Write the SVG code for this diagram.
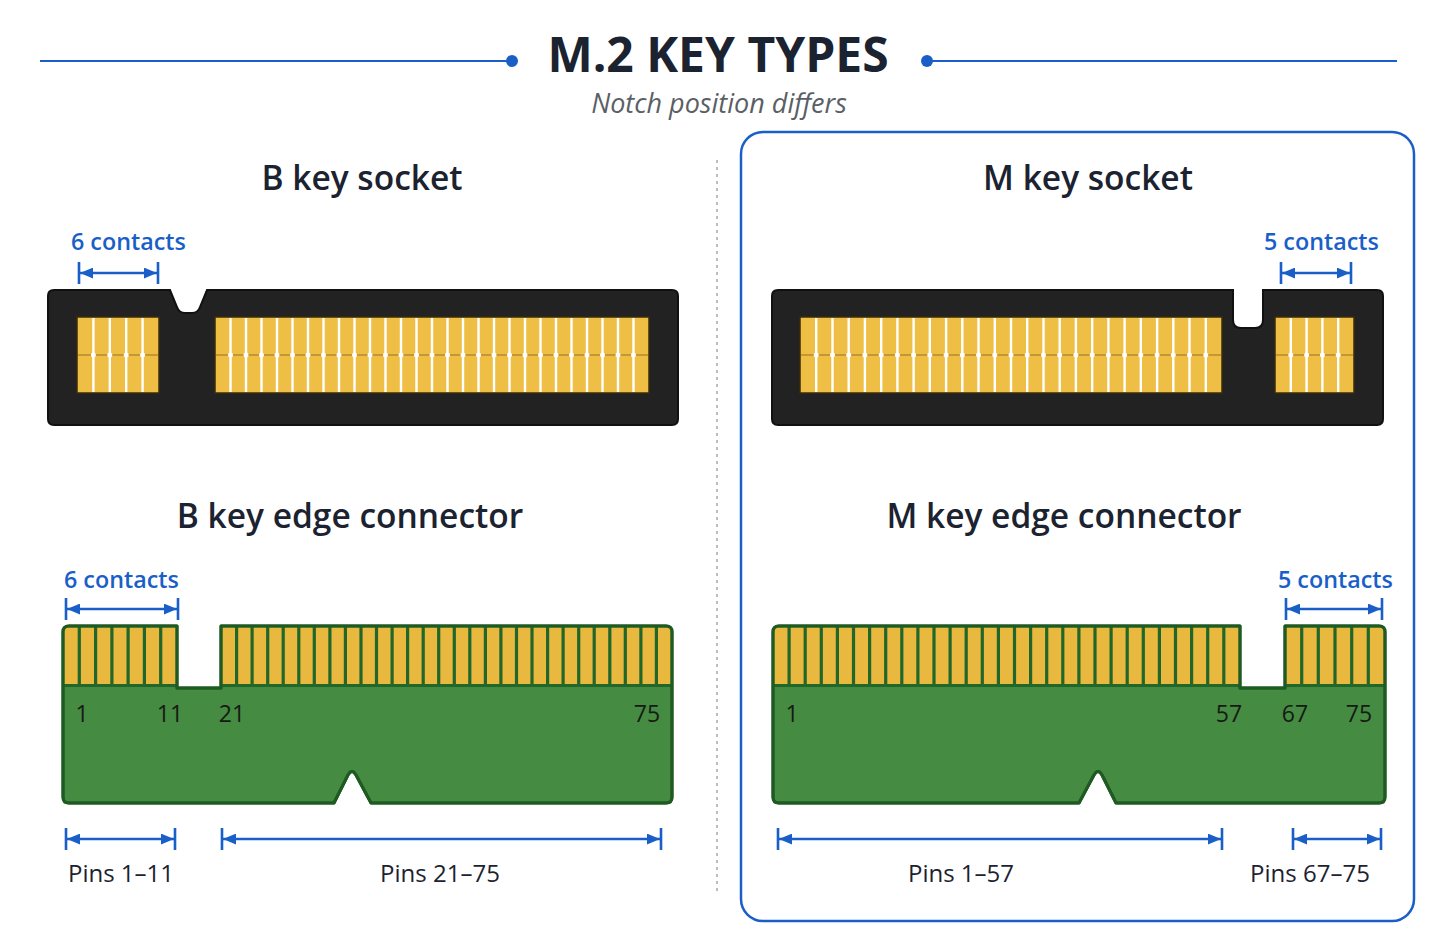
<svg xmlns="http://www.w3.org/2000/svg" width="1448" height="936" viewBox="0 0 1448 936">
<style>
text{font-family:"Open Sans","Noto Sans","DejaVu Sans",sans-serif}
.title{font-size:48px;font-weight:700;fill:#1b2230}
.sub{font-size:27px;font-style:italic;fill:#5a5f66}
.head{font-size:33.5px;font-weight:600;fill:#1b2230}
.blue{font-size:23.3px;font-weight:600;fill:#1a5fc8}
.pin{font-size:23px;fill:#151a15}
.dim{font-size:24px;fill:#1b2230}
.body{fill:#222222;stroke:#111111;stroke-width:2}
.spad{fill:#efbe45;stroke:#3a2c0c;stroke-width:1.5}
.sline{stroke:#ffffff;stroke-width:2.4;fill:none}
.smid{stroke:#b88a2a;stroke-width:1.5;fill:none}
.sdot{stroke:#ffffff;stroke-width:5;stroke-linecap:round;fill:none}
.pcb{fill:#458b41;stroke:#1f5a22;stroke-width:3;stroke-linejoin:round}
.gold{fill:#e9b83f}
.sep{stroke:#23662a;stroke-width:3.2;fill:none}
.dl{stroke:#1a5fc8;stroke-width:2.6;fill:none}
.tick{stroke:#1a5fc8;stroke-width:2.6;fill:none}
</style>
<defs>
<marker id="ah" viewBox="0 0 12 10" refX="12" refY="5" markerWidth="13" markerHeight="11" markerUnits="userSpaceOnUse" orient="auto-start-reverse">
<path d="M0 0 L12 5 L0 10 Z" fill="#1a5fc8"/>
</marker>
</defs>
<rect width="1448" height="936" fill="#ffffff"/>

<g id="title">
<line x1="40" y1="61" x2="512" y2="61" stroke="#1a5fc8" stroke-width="2"/>
<circle cx="512" cy="61" r="6" fill="#1a5fc8"/>
<line x1="927" y1="61" x2="1397" y2="61" stroke="#1a5fc8" stroke-width="2"/>
<circle cx="927" cy="61" r="6" fill="#1a5fc8"/>
<text class="title" x="718" y="72" text-anchor="middle">M.2 KEY TYPES</text>
<text class="sub" x="719" y="113" text-anchor="middle">Notch position differs</text>
</g>

<g id="divider">
<line x1="717" y1="160" x2="717" y2="892" stroke="#a8a8a8" stroke-width="1.5" stroke-dasharray="3 4"/>
</g>

<g id="m-panel">
<rect x="741" y="132" width="673" height="789" rx="22" fill="none" stroke="#1a5fc8" stroke-width="2.5"/>
</g>

<g id="b-socket">
<text class="head" x="362" y="190" text-anchor="middle">B key socket</text>
<text class="blue" x="71" y="250">6 contacts</text>
<path class="body" d="M54 290 H170 L177 307 Q179 313 185 313 H192 Q198 313 200 307 L207 290 H672 Q678 290 678 296 V419 Q678 425 672 425 H54 Q48 425 48 419 V296 Q48 290 54 290 Z"/>
<rect class="spad" x="77" y="317" width="82" height="76"/>
<rect class="spad" x="215" y="317" width="434" height="76"/>
<path class="smid" d="M78 355 H158 M216 355 H648"/>
<path class="sline" d="M93.4 318V392 M109.8 318V392 M126.2 318V392 M142.6 318V392 M230.5 318V392 M246 318V392 M261.5 318V392 M277 318V392 M292.5 318V392 M308 318V392 M323.5 318V392 M339 318V392 M354.5 318V392 M370 318V392 M385.5 318V392 M401 318V392 M416.5 318V392 M432 318V392 M447.5 318V392 M463 318V392 M478.5 318V392 M494 318V392 M509.5 318V392 M525 318V392 M540.5 318V392 M556 318V392 M571.5 318V392 M587 318V392 M602.5 318V392 M618 318V392 M633.5 318V392"/>
<path class="sdot" d="M93.4 355h0 M109.8 355h0 M126.2 355h0 M142.6 355h0 M230.5 355h0 M246 355h0 M261.5 355h0 M277 355h0 M292.5 355h0 M308 355h0 M323.5 355h0 M339 355h0 M354.5 355h0 M370 355h0 M385.5 355h0 M401 355h0 M416.5 355h0 M432 355h0 M447.5 355h0 M463 355h0 M478.5 355h0 M494 355h0 M509.5 355h0 M525 355h0 M540.5 355h0 M556 355h0 M571.5 355h0 M587 355h0 M602.5 355h0 M618 355h0 M633.5 355h0"/>
</g>

<g id="m-socket">
<text class="head" x="1088" y="190" text-anchor="middle">M key socket</text>
<text class="blue" x="1264" y="250">5 contacts</text>
<path class="body" d="M778 290 H1233 V320 Q1233 328 1241 328 H1255 Q1263 328 1263 320 V290 H1377 Q1383 290 1383 296 V419 Q1383 425 1377 425 H778 Q772 425 772 419 V296 Q772 290 778 290 Z"/>
<rect class="spad" x="800" y="317" width="422" height="76"/>
<rect class="spad" x="1275" y="317" width="79" height="76"/>
<path class="smid" d="M801 355 H1221 M1276 355 H1353"/>
<path class="sline" d="M816.2 318V392 M832.5 318V392 M848.7 318V392 M864.9 318V392 M881.2 318V392 M897.4 318V392 M913.6 318V392 M929.8 318V392 M946.1 318V392 M962.3 318V392 M978.5 318V392 M994.8 318V392 M1011 318V392 M1027.2 318V392 M1043.5 318V392 M1059.7 318V392 M1075.9 318V392 M1092.2 318V392 M1108.4 318V392 M1124.6 318V392 M1140.8 318V392 M1157.1 318V392 M1173.3 318V392 M1189.5 318V392 M1205.8 318V392 M1290.8 318V392 M1306.6 318V392 M1322.4 318V392 M1338.2 318V392"/>
<path class="sdot" d="M816.2 355h0 M832.5 355h0 M848.7 355h0 M864.9 355h0 M881.2 355h0 M897.4 355h0 M913.6 355h0 M929.8 355h0 M946.1 355h0 M962.3 355h0 M978.5 355h0 M994.8 355h0 M1011 355h0 M1027.2 355h0 M1043.5 355h0 M1059.7 355h0 M1075.9 355h0 M1092.2 355h0 M1108.4 355h0 M1124.6 355h0 M1140.8 355h0 M1157.1 355h0 M1173.3 355h0 M1189.5 355h0 M1205.8 355h0 M1290.8 355h0 M1306.6 355h0 M1322.4 355h0 M1338.2 355h0"/>
</g>

<g id="b-edge">
<text class="head" x="350" y="528" text-anchor="middle">B key edge connector</text>
<text class="blue" x="64" y="588">6 contacts</text>
<path class="pcb" d="M63 632 Q63 626 69 626 H177 V688 H221 V626 H666 Q672 626 672 632 V797 Q672 803 666 803 H371 L356 775 Q352 768 348 775 L334 803 H69 Q63 803 63 797 Z"/>
<rect class="gold" x="64.5" y="627.5" width="111" height="57"/>
<rect class="gold" x="222.5" y="627.5" width="448" height="57"/>
<path class="sep" d="M64 685.5 H177 M221 685.5 H671 M79.3 627V685 M95.6 627V685 M111.9 627V685 M128.1 627V685 M144.4 627V685 M160.7 627V685 M236.6 627V685 M252.1 627V685 M267.7 627V685 M283.2 627V685 M298.8 627V685 M314.3 627V685 M329.9 627V685 M345.4 627V685 M361 627V685 M376.5 627V685 M392.1 627V685 M407.6 627V685 M423.2 627V685 M438.7 627V685 M454.3 627V685 M469.8 627V685 M485.4 627V685 M500.9 627V685 M516.5 627V685 M532 627V685 M547.6 627V685 M563.1 627V685 M578.7 627V685 M594.2 627V685 M609.8 627V685 M625.3 627V685 M640.9 627V685 M656.4 627V685"/>
<path class="pcb" style="fill:none" d="M63 632 Q63 626 69 626 H177 V688 H221 V626 H666 Q672 626 672 632 V797 Q672 803 666 803 H371 L356 775 Q352 768 348 775 L334 803 H69 Q63 803 63 797 Z"/>
<text class="pin" x="82" y="722" text-anchor="middle">1</text>
<text class="pin" x="170" y="722" text-anchor="middle">11</text>
<text class="pin" x="232" y="722" text-anchor="middle">21</text>
<text class="pin" x="647" y="722" text-anchor="middle">75</text>
<text class="dim" x="121" y="882" text-anchor="middle">Pins 1–11</text>
<text class="dim" x="440" y="882" text-anchor="middle">Pins 21–75</text>
</g>

<g id="m-edge">
<text class="head" x="1064" y="528" text-anchor="middle">M key edge connector</text>
<text class="blue" x="1278" y="588">5 contacts</text>
<path class="pcb" d="M773 632 Q773 626 779 626 H1240 V688 H1285 V626 H1379 Q1385 626 1385 632 V797 Q1385 803 1379 803 H1116 L1102 775 Q1098 768 1094 775 L1079 803 H779 Q773 803 773 797 Z"/>
<rect class="gold" x="774.5" y="627.5" width="464" height="57"/>
<rect class="gold" x="1286.5" y="627.5" width="97" height="57"/>
<path class="sep" d="M774 685.5 H1240 M1285 685.5 H1384 M789.1 627V685 M805.2 627V685 M821.3 627V685 M837.4 627V685 M853.5 627V685 M869.6 627V685 M885.7 627V685 M901.8 627V685 M917.9 627V685 M934 627V685 M950.1 627V685 M966.2 627V685 M982.3 627V685 M998.4 627V685 M1014.5 627V685 M1030.6 627V685 M1046.7 627V685 M1062.8 627V685 M1078.9 627V685 M1095 627V685 M1111.1 627V685 M1127.2 627V685 M1143.3 627V685 M1159.4 627V685 M1175.5 627V685 M1191.6 627V685 M1207.7 627V685 M1223.8 627V685 M1301.7 627V685 M1318.3 627V685 M1335 627V685 M1351.7 627V685 M1368.3 627V685"/>
<path class="pcb" style="fill:none" d="M773 632 Q773 626 779 626 H1240 V688 H1285 V626 H1379 Q1385 626 1385 632 V797 Q1385 803 1379 803 H1116 L1102 775 Q1098 768 1094 775 L1079 803 H779 Q773 803 773 797 Z"/>
<text class="pin" x="792" y="722" text-anchor="middle">1</text>
<text class="pin" x="1229" y="722" text-anchor="middle">57</text>
<text class="pin" x="1295" y="722" text-anchor="middle">67</text>
<text class="pin" x="1359" y="722" text-anchor="middle">75</text>
<text class="dim" x="961" y="882" text-anchor="middle">Pins 1–57</text>
<text class="dim" x="1310" y="882" text-anchor="middle">Pins 67–75</text>
</g>

<g id="connectors">
<path class="tick" d="M79 262V284 M158 262V284"/>
<line class="dl" x1="80" y1="273" x2="157" y2="273" marker-start="url(#ah)" marker-end="url(#ah)"/>
<path class="tick" d="M1281 262V284 M1351 262V284"/>
<line class="dl" x1="1282" y1="273" x2="1350" y2="273" marker-start="url(#ah)" marker-end="url(#ah)"/>
<path class="tick" d="M66 598V620 M178 598V620"/>
<line class="dl" x1="67" y1="609" x2="177" y2="609" marker-start="url(#ah)" marker-end="url(#ah)"/>
<path class="tick" d="M1286 598V620 M1382 598V620"/>
<line class="dl" x1="1287" y1="609" x2="1381" y2="609" marker-start="url(#ah)" marker-end="url(#ah)"/>
<path class="tick" d="M66 828V850 M175 828V850"/>
<line class="dl" x1="67" y1="839" x2="174" y2="839" marker-start="url(#ah)" marker-end="url(#ah)"/>
<path class="tick" d="M222 828V850 M661 828V850"/>
<line class="dl" x1="223" y1="839" x2="660" y2="839" marker-start="url(#ah)" marker-end="url(#ah)"/>
<path class="tick" d="M778 828V850 M1222 828V850"/>
<line class="dl" x1="779" y1="839" x2="1221" y2="839" marker-start="url(#ah)" marker-end="url(#ah)"/>
<path class="tick" d="M1293 828V850 M1381 828V850"/>
<line class="dl" x1="1294" y1="839" x2="1380" y2="839" marker-start="url(#ah)" marker-end="url(#ah)"/>
</g>
</svg>
